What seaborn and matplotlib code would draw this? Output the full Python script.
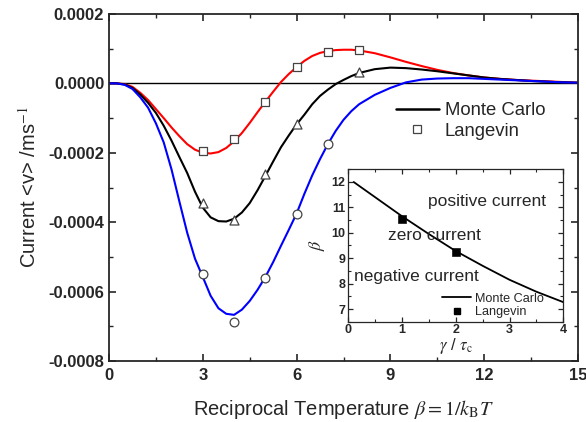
import matplotlib
matplotlib.use("Agg")
import matplotlib.pyplot as plt
from matplotlib.lines import Line2D
from matplotlib.ticker import MultipleLocator
import seaborn as sns

# smooth curves
beta = [0, 0.25, 0.5, 0.75, 1, 1.25, 1.5, 1.75, 2, 2.25, 2.5, 2.75, 3, 3.25, 3.5, 3.75,
        4, 4.25, 4.5, 4.75, 5, 5.25, 5.5, 5.75, 6, 6.25, 6.5, 6.75, 7, 7.25, 7.5, 7.75,
        8, 8.5, 9, 9.5, 10, 10.5, 11, 11.5, 12, 12.5, 13, 13.5, 14, 14.5, 15]
red_curve = [0, 0, -0.000002, -0.00001, -0.000027, -0.000048, -0.000074, -0.0001,
             -0.000127, -0.000152, -0.000175, -0.000191, -0.0002, -0.000202, -0.000198, -0.000186,
             -0.000167, -0.000143, -0.000114, -0.000083, -0.000053, -0.000024, 0.000004, 0.000027,
             0.000047, 0.000065, 0.000079, 0.000088, 0.000093, 0.000096, 0.000097, 0.000097,
             0.000095, 0.000087, 0.000075, 0.000062, 0.00005, 0.000039, 0.00003, 0.000023,
             0.000017, 0.000013, 0.00001, 0.000008, 0.000006, 0.000004, 0.000002]
black_curve = [0, 0, -0.000003, -0.000013, -0.000032, -0.000056, -0.000085, -0.000122,
               -0.000165, -0.000212, -0.000258, -0.000312, -0.000358, -0.000386, -0.000397, -0.000398,
               -0.00039, -0.000372, -0.000345, -0.000308, -0.000267, -0.000225, -0.000184, -0.00015,
               -0.000118, -0.00009, -0.00006, -0.000036, -0.000018, -0.000002, 0.00001, 0.000021,
               0.00003, 0.000041, 0.0000455, 0.000044, 0.00004, 0.000035, 0.000029, 0.000023,
               0.000017, 0.000013, 0.00001, 0.000007, 0.000005, 0.000003, 0.000002]
blue_curve = [0, 0, -0.000004, -0.000016, -0.00004, -0.00007, -0.000115, -0.00017,
              -0.000248, -0.00034, -0.00043, -0.000505, -0.000558, -0.000612, -0.000648, -0.000664,
              -0.000667, -0.000652, -0.000627, -0.000595, -0.000558, -0.000515, -0.000468, -0.000422,
              -0.000375, -0.000318, -0.000265, -0.000218, -0.000175, -0.000137, -0.000105, -0.00008,
              -0.00006, -0.000033, -0.000013, 0.000003, 0.000011, 0.000014, 0.000015, 0.000015,
              0.000013, 0.000011, 0.000009, 0.000007, 0.000005, 0.000003, 0.000002]

# symbols
sq_beta = [3, 4, 5, 6, 7, 8]
sq_val = [-0.000194, -0.00016, -0.000054, 0.000047, 0.000091, 0.000095]
tri_beta = [3, 4, 5, 6, 8]
tri_val = [-0.000345, -0.000395, -0.000262, -0.000118, 0.000032]
circ_beta = [3, 4, 5, 6, 7]
circ_val = [-0.00055, -0.000687, -0.00056, -0.000375, -0.000174]

x_ticks = [0, 3, 6, 9, 12, 15]
y_ticks = [-0.0008, -0.0006, -0.0004, -0.0002, 0.0, 0.0002]
y_ticklabels = ["-0.0008", "-0.0006", "-0.0004", "-0.0002", "0.0000", "0.0002"]

# inset: phase boundary
gamma = [0.1, 0.5, 1.0, 1.5, 2.0, 2.5, 3.0, 3.5, 4.0]
beta_mc = [12.0, 11.4, 10.65, 9.95, 9.28, 8.7, 8.15, 7.68, 7.27]
gamma_lang = [1, 2]
beta_lang = [10.55, 9.25]

sns.set_style("ticks")
plt.rcParams["font.family"] = ["Liberation Sans", "DejaVu Sans"]
plt.rcParams["mathtext.fontset"] = "stix"
plt.rcParams.update({"xtick.direction": "in", "ytick.direction": "in",
                     "xtick.top": True, "ytick.right": True})

fig = plt.figure(figsize=(5.86, 4.22), dpi=100)
ax = fig.add_axes([109 / 586, 1 - 361 / 422, 469 / 586, 347 / 422])

ax.axhline(0, color="black", lw=1.0, zorder=1)
for yv, c in [(red_curve, "#ff0000"), (black_curve, "black"), (blue_curve, "#0000ff")]:
    sns.lineplot(x=beta, y=yv, color=c, lw=1.5, ax=ax, zorder=2)

mk = dict(facecolor="white", edgecolor="#444444", linewidth=0.9, zorder=3, ax=ax)
sns.scatterplot(x=sq_beta, y=sq_val, marker="s", s=32, **mk)
sns.scatterplot(x=tri_beta, y=tri_val, marker="^", s=42, **mk)
sns.scatterplot(x=circ_beta, y=circ_val, marker="o", s=40, **mk)

ax.set_xlim(0, 15)
ax.set_ylim(-0.0008, 0.0002)
ax.set_xticks(x_ticks)
ax.set_xticklabels([str(t) for t in x_ticks])
ax.set_yticks(y_ticks)
ax.set_yticklabels(y_ticklabels)
ax.xaxis.set_minor_locator(MultipleLocator(1.5))
ax.yaxis.set_minor_locator(MultipleLocator(0.0001))
ax.tick_params(which="major", length=5, width=1.2, labelsize=12)
ax.tick_params(axis="x", which="major", pad=5)
ax.tick_params(which="minor", length=3, width=1.0)
for lab in ax.get_xticklabels() + ax.get_yticklabels():
    lab.set_fontweight("bold")
for sp in ax.spines.values():
    sp.set_linewidth(1.3)

ax.set_xlabel(r"Reciprocal Temperature $\beta = 1/k_\mathrm{B}T$", fontsize=14.5, labelpad=11)
ax.set_ylabel(r"Current <v> /ms$^{-1}$", fontsize=14.5, labelpad=6)

handles = [Line2D([], [], color="black", lw=1.8),
           Line2D([], [], ls="none", marker="s", markersize=6, markerfacecolor="white",
                  markeredgecolor="#444444", markeredgewidth=0.9)]
ax.legend(handles, ["Monte Carlo", "Langevin"], loc="center left",
          bbox_to_anchor=(0.612, 0.692), frameon=False, fontsize=13.3,
          handlelength=2.3, handletextpad=0.35, labelspacing=0.2, borderpad=0, borderaxespad=0)

# inset
ins = fig.add_axes([348.3 / 586, 1 - 321.7 / 422, 215 / 586, 152.4 / 422])
sns.lineplot(x=gamma, y=beta_mc, color="black", lw=1.3, ax=ins)
sns.scatterplot(x=gamma_lang, y=beta_lang, marker="s", s=30, color="black",
                edgecolor="black", ax=ins, zorder=3)
ins.set_xlim(0, 4)
ins.set_ylim(6.5, 12.5)
ins.set_xticks([0, 1, 2, 3, 4])
ins.set_yticks([7, 8, 9, 10, 11, 12])
ins.xaxis.set_minor_locator(MultipleLocator(0.5))
ins.yaxis.set_minor_locator(MultipleLocator(0.5))
ins.tick_params(which="major", length=3.5, width=0.9, labelsize=9, pad=2)
ins.tick_params(which="minor", length=2, width=0.8)
for lab in ins.get_xticklabels() + ins.get_yticklabels():
    lab.set_fontweight("bold")
for sp in ins.spines.values():
    sp.set_linewidth(0.9)
ins.set_xlabel(r"$\gamma$ / $\tau_\mathrm{c}$", fontsize=12, labelpad=0)
ins.set_ylabel(r"$\beta$", fontsize=13, labelpad=3)

ins.text(1.49, 11.25, "positive current", fontsize=12.5, va="center", ha="left")
ins.text(0.73, 9.91, "zero current", fontsize=12.5, va="center", ha="left")
ins.text(0.11, 8.27, "negative current", fontsize=12.5, va="center", ha="left")

ih = [Line2D([], [], color="black", lw=1.3),
      Line2D([], [], ls="none", marker="s", markersize=5, color="black")]
ins.legend(ih, ["Monte Carlo", "Langevin"], loc="center left", bbox_to_anchor=(0.436, 0.106),
           frameon=False, fontsize=9.1, handlelength=2.3, handletextpad=0.3,
           labelspacing=0.15, borderpad=0, borderaxespad=0)

fig.savefig("out.png", dpi=100)
